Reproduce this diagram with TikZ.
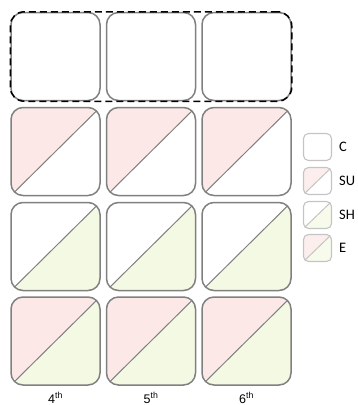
\documentclass[tikz,border=0pt]{standalone}
\usepackage{fontspec}
\usetikzlibrary{fit}
\setmainfont{Liberation Sans}
\newfontfamily\legfont{Carlito}
\definecolor{supink}{HTML}{FDE8E8}
\definecolor{shgreen}{HTML}{F4F9E4}
\definecolor{boxgray}{HTML}{808080}
\definecolor{leggray}{HTML}{C4C4C4}
\definecolor{legpink}{HTML}{FDEEEE}
\definecolor{leggreen}{HTML}{F7FBEC}
\begin{document}
\begin{tikzpicture}[x=1pt,y=-1pt,
  cellbox/.style={draw=boxgray, line width=1.5pt, rounded corners=12pt,
    minimum width=89pt, minimum height=88pt, inner sep=0pt, fill=white},
  legbox/.style={draw=leggray, line width=1.1pt, rounded corners=5pt,
    minimum width=28pt, minimum height=27pt, inner sep=0pt, fill=white},
  diag/.style={path picture={\draw[#1, line width=1pt] (path picture bounding box.south west) -- (path picture bounding box.north east);}},
  both/.style 2 args={path picture={
    \fill[#1] (path picture bounding box.north west) -- (path picture bounding box.north east) -- (path picture bounding box.south west) -- cycle;
    \fill[#2] (path picture bounding box.south east) -- (path picture bounding box.north east) -- (path picture bounding box.south west) -- cycle;}},
  collabel/.style={font=\fontsize{12.5}{15}\selectfont, inner sep=0pt},
  leglabel/.style={font=\legfont\fontsize{14.5}{17}\selectfont, anchor=west, inner sep=0pt}
]
\useasboundingbox (0,0) rectangle (357,405);

% row 1: C
\node[cellbox] (c1) at (55.5,56.5) {};
\node[cellbox] (c2) at (151,56.5) {};
\node[cellbox] (c3) at (246.5,56.5) {};
\node[draw=black, line width=1.5pt, dash pattern=on 7pt off 4pt, rounded corners=14pt,
  fit=(c1)(c3), inner sep=0pt] (grp) {};

% row 2: SU
\foreach \i/\x in {1/55.5,2/151,3/246.5}{
  \node[cellbox, both={supink}{white}, postaction={diag=boxgray}] (su\i) at (\x,151.5) {};
}
% row 3: SH
\foreach \i/\x in {1/55.5,2/151,3/246.5}{
  \node[cellbox, both={white}{shgreen}, postaction={diag=boxgray}] (sh\i) at (\x,246.5) {};
}
% row 4: E
\foreach \i/\x in {1/55.5,2/151,3/246.5}{
  \node[cellbox, both={supink}{shgreen}, postaction={diag=boxgray}] (e\i) at (\x,341) {};
}

% column labels
\node[collabel] (l4) at (55.5,398) {4\textsuperscript{th}};
\node[collabel] (l5) at (151,398) {5\textsuperscript{th}};
\node[collabel] (l6) at (246.5,398) {6\textsuperscript{th}};

% legend
\node[legbox] (kc) at (317.5,147) {};
\node[legbox, both={legpink}{white}, postaction={diag=leggray}] (ksu) at (317.5,181) {};
\node[legbox, both={white}{leggreen}, postaction={diag=leggray}] (ksh) at (317.5,215) {};
\node[legbox, both={legpink}{leggreen}, postaction={diag=leggray}] (ke) at (317.5,248) {};
\node[leglabel] (tc) at (339,147) {C};
\node[leglabel] (tsu) at (339,181) {SU};
\node[leglabel] (tsh) at (339,215) {SH};
\node[leglabel] (te) at (339,248) {E};
\end{tikzpicture}
\end{document}
